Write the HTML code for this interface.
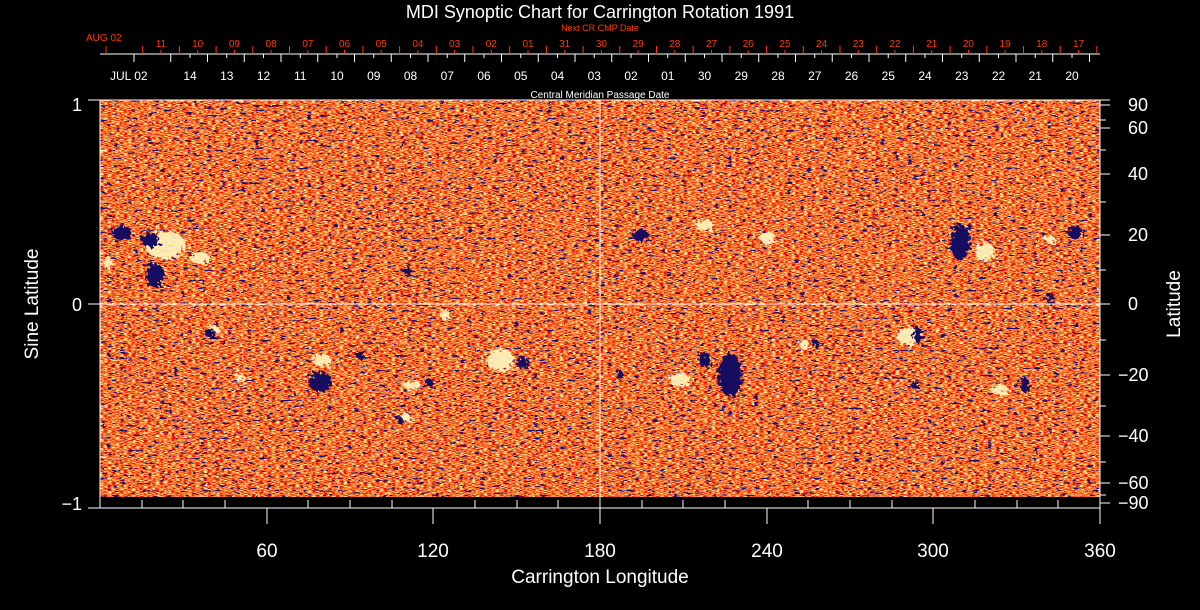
<!DOCTYPE html>
<html><head><meta charset="utf-8"><style>
html,body{margin:0;padding:0;background:#000;width:1200px;height:610px;overflow:hidden}
svg text{font-family:"Liberation Sans",sans-serif}
</style></head><body>
<svg width="1200" height="610" viewBox="0 0 1200 610" xmlns="http://www.w3.org/2000/svg">
<defs>
<filter id="n" x="0" y="0" width="100%" height="100%">
<feTurbulence type="fractalNoise" baseFrequency="0.25 1.0" numOctaves="2" seed="4" result="t"/>
<feColorMatrix in="t" type="matrix" values="3.4 0 0 0 -1.2  3.4 0 0 0 -1.2  3.4 0 0 0 -1.2  0 0 0 0 1" result="m"/>
<feComponentTransfer in="m" result="c">
<feFuncR type="table" tableValues="0.8 0.88 0.94 0.98 1 1"/>
<feFuncG type="table" tableValues="0 0.05 0.13 0.24 0.42 0.82"/>
<feFuncB type="table" tableValues="0 0 0.02 0.04 0.08 0.3"/>
<feFuncA type="table" tableValues="1 1"/>
</feComponentTransfer>
<feTurbulence type="fractalNoise" baseFrequency="0.15 0.4" numOctaves="2" seed="11" result="t2"/>
<feColorMatrix in="t2" type="matrix" values="0 0 0 0 0  0 0 0 0 0  0 0 0 0 0  -6 0 0 0 2.75" result="a2"/>
<feComponentTransfer in="a2" result="a3"><feFuncA type="discrete" tableValues="0 0 0 0 1"/></feComponentTransfer>
<feFlood flood-color="#1a0a70"/>
<feComposite in2="a3" operator="in" result="blue"/>
<feMerge><feMergeNode in="c"/><feMergeNode in="blue"/></feMerge>
</filter>
<filter id="b" x="-20%" y="-20%" width="140%" height="140%"><feTurbulence type="fractalNoise" baseFrequency="0.3" numOctaves="2" seed="7"/><feDisplacementMap in="SourceGraphic" scale="12"/></filter>
</defs>
<text x="600" y="18" fill="#fff" font-size="18" text-anchor="middle">MDI Synoptic Chart for Carrington Rotation 1991</text>
<text x="600" y="31" fill="#ff3a00" font-size="9" text-anchor="middle">Next CR CMP Date</text>
<text x="86" y="41" fill="#ff3a00" font-size="10">AUG 02</text>
<g fill="#ff3a00" font-size="10" text-anchor="middle">
<text x="161" y="47">11</text><text x="197.7" y="47">10</text><text x="234.4" y="47">09</text><text x="271.1" y="47">08</text><text x="307.8" y="47">07</text><text x="344.5" y="47">06</text><text x="381.2" y="47">05</text><text x="417.9" y="47">04</text><text x="454.6" y="47">03</text><text x="491.3" y="47">02</text><text x="528" y="47">01</text><text x="564.7" y="47">31</text><text x="601.4" y="47">30</text><text x="638.1" y="47">29</text><text x="674.8" y="47">28</text><text x="711.5" y="47">27</text><text x="748.2" y="47">26</text><text x="784.9" y="47">25</text><text x="821.6" y="47">24</text><text x="858.3" y="47">23</text><text x="895" y="47">22</text><text x="931.7" y="47">21</text><text x="968.4" y="47">20</text><text x="1005.1" y="47">19</text><text x="1041.8" y="47">18</text><text x="1078.5" y="47">17</text>
</g>
<line x1="100" y1="54" x2="1100" y2="54" stroke="#fff"/>
<path stroke="#ff3a00" d="M106 46v8M142.7 46v8M179.4 46v8M216.1 46v8M252.8 46v8M289.5 46v8M326.2 46v8M362.9 46v8M399.6 46v8M436.3 46v8M473 46v8M509.7 46v8M546.4 46v8M583.1 46v8M619.8 46v8M656.5 46v8M693.2 46v8M729.9 46v8M766.6 46v8M803.3 46v8M840 46v8M876.7 46v8M913.4 46v8M950.1 46v8M986.8 46v8M1023.5 46v8M1060.2 46v8M1096.9 46v8M161 50v4M197.7 50v4M234.4 50v4M271.1 50v4M307.8 50v4M344.5 50v4M381.2 50v4M417.9 50v4M454.6 50v4M491.3 50v4M528 50v4M564.7 50v4M601.4 50v4M638.1 50v4M674.8 50v4M711.5 50v4M748.2 50v4M784.9 50v4M821.6 50v4M858.3 50v4M895 50v4M931.7 50v4M968.4 50v4M1005.1 50v4M1041.8 50v4M1078.5 50v4"/>
<path stroke="#fff" d="M134 54v8M170.75 54v8M207.5 54v8M244.25 54v8M281 54v8M317.75 54v8M354.5 54v8M391.25 54v8M428 54v8M464.75 54v8M501.5 54v8M538.25 54v8M575 54v8M611.75 54v8M648.5 54v8M685.25 54v8M722 54v8M758.75 54v8M795.5 54v8M832.25 54v8M869 54v8M905.75 54v8M942.5 54v8M979.25 54v8M1016 54v8M1052.75 54v8M1089.5 54v8M190 54v4M226.75 54v4M263.5 54v4M300.25 54v4M337 54v4M373.75 54v4M410.5 54v4M447.25 54v4M484 54v4M520.75 54v4M557.5 54v4M594.25 54v4M631 54v4M667.75 54v4M704.5 54v4M741.25 54v4M778 54v4M814.75 54v4M851.5 54v4M888.25 54v4M925 54v4M961.75 54v4M998.5 54v4M1035.25 54v4M1072 54v4"/>
<text x="110" y="80" fill="#fff" font-size="12">JUL 02</text>
<g fill="#fff" font-size="12" text-anchor="middle">
<text x="190" y="80">14</text><text x="226.75" y="80">13</text><text x="263.5" y="80">12</text><text x="300.25" y="80">11</text><text x="337" y="80">10</text><text x="373.75" y="80">09</text><text x="410.5" y="80">08</text><text x="447.25" y="80">07</text><text x="484" y="80">06</text><text x="520.75" y="80">05</text><text x="557.5" y="80">04</text><text x="594.25" y="80">03</text><text x="631" y="80">02</text><text x="667.75" y="80">01</text><text x="704.5" y="80">30</text><text x="741.25" y="80">29</text><text x="778" y="80">28</text><text x="814.75" y="80">27</text><text x="851.5" y="80">26</text><text x="888.25" y="80">25</text><text x="925" y="80">24</text><text x="961.75" y="80">23</text><text x="998.5" y="80">22</text><text x="1035.25" y="80">21</text><text x="1072" y="80">20</text>
</g>
<text x="600" y="98" fill="#fff" font-size="10" text-anchor="middle">Central Meridian Passage Date</text>

<rect x="100" y="100" width="1000" height="397" filter="url(#n)"/>
<g filter="url(#b)">
<g fill="#fff8c0" opacity="0.9">
<ellipse cx="165" cy="245" rx="20" ry="14"/><ellipse cx="200" cy="258" rx="10" ry="6"/><ellipse cx="108" cy="262" rx="4" ry="6"/>
<ellipse cx="213" cy="330" rx="6" ry="5"/><ellipse cx="322" cy="360" rx="10" ry="6"/><ellipse cx="500" cy="360" rx="14" ry="11"/>
<ellipse cx="412" cy="385" rx="9" ry="4"/><ellipse cx="405" cy="418" rx="6" ry="4"/><ellipse cx="240" cy="378" rx="5" ry="4"/>
<ellipse cx="705" cy="225" rx="8" ry="6"/><ellipse cx="768" cy="238" rx="8" ry="6"/><ellipse cx="680" cy="380" rx="10" ry="7"/>
<ellipse cx="908" cy="336" rx="11" ry="9"/><ellipse cx="985" cy="252" rx="10" ry="9"/><ellipse cx="1050" cy="240" rx="6" ry="4"/>
<ellipse cx="805" cy="345" rx="5" ry="5"/><ellipse cx="1000" cy="390" rx="9" ry="5"/><ellipse cx="445" cy="315" rx="4" ry="6"/>
</g>
<g fill="#160a60">
<ellipse cx="122" cy="233" rx="10" ry="7"/><ellipse cx="150" cy="240" rx="9" ry="7"/><ellipse cx="155" cy="275" rx="9" ry="12"/>
<ellipse cx="210" cy="333" rx="5" ry="5"/><ellipse cx="320" cy="382" rx="12" ry="10"/><ellipse cx="360" cy="355" rx="4" ry="5"/>
<ellipse cx="522" cy="362" rx="6" ry="6"/><ellipse cx="430" cy="382" rx="5" ry="4"/><ellipse cx="408" cy="272" rx="4" ry="5"/>
<ellipse cx="640" cy="235" rx="8" ry="6"/><ellipse cx="730" cy="375" rx="12" ry="22"/><ellipse cx="705" cy="360" rx="6" ry="8"/>
<ellipse cx="918" cy="335" rx="5" ry="8"/><ellipse cx="960" cy="242" rx="10" ry="18"/><ellipse cx="1075" cy="232" rx="8" ry="6"/>
<ellipse cx="1050" cy="298" rx="4" ry="6"/><ellipse cx="915" cy="385" rx="4" ry="4"/><ellipse cx="1025" cy="385" rx="5" ry="7"/>
<ellipse cx="815" cy="343" rx="4" ry="4"/><ellipse cx="400" cy="420" rx="3" ry="3"/><ellipse cx="620" cy="375" rx="3" ry="5"/>
</g>
</g>
<line x1="100" y1="304" x2="1100" y2="304" stroke="#fff"/>
<line x1="600" y1="100" x2="600" y2="508" stroke="#fff"/>
<g stroke="#fff" fill="none">
<line x1="100" y1="100" x2="100" y2="508"/><line x1="1100" y1="100" x2="1100" y2="508"/>
<line x1="100" y1="508" x2="1100" y2="508"/><line x1="88" y1="100" x2="1110" y2="100"/>
<line x1="88" y1="304" x2="100" y2="304"/><line x1="88" y1="508" x2="100" y2="508"/>
<path d="M100 151h6M100 202h6M100 253h6M100 355h6M100 406h6M100 457h6"/>
<path d="M1100 105h10M1100 128h10M1100 174h10M1100 235h10M1100 304h10M1100 375h10M1100 436h10M1100 483h10M1100 503h10M1100 120h6M1100 150h6M1100 202h6M1100 270h6M1100 340h6M1100 406h6M1100 462h6M1100 495h6"/>
<path d="M267 508v16M433 508v16M600 508v16M767 508v16M933 508v16M1100 508v16M142 508v-8M183 508v-8M225 508v-8M308 508v-8M350 508v-8M392 508v-8M475 508v-8M517 508v-8M558 508v-8M642 508v-8M683 508v-8M725 508v-8M808 508v-8M850 508v-8M892 508v-8M975 508v-8M1017 508v-8M1058 508v-8"/>
</g>
<g fill="#fff" font-size="18" text-anchor="end">
<text x="82" y="111">1</text><text x="82" y="311">0</text><text x="82" y="510">−1</text>
</g>
<g fill="#fff" font-size="18">
<text x="1128" y="111">90</text><text x="1128" y="134">60</text><text x="1128" y="180">40</text><text x="1128" y="241">20</text><text x="1128" y="310">0</text>
<text x="1118" y="381">−20</text><text x="1118" y="442">−40</text><text x="1118" y="489">−60</text><text x="1118" y="509">−90</text>
</g>
<g fill="#fff" font-size="19" text-anchor="middle">
<text x="267" y="557">60</text><text x="433" y="557">120</text><text x="600" y="557">180</text><text x="767" y="557">240</text><text x="933" y="557">300</text><text x="1100" y="557">360</text>
<text x="600" y="583">Carrington Longitude</text>
</g>
<text transform="translate(38,304) rotate(-90)" fill="#fff" font-size="19" text-anchor="middle">Sine Latitude</text>
<text transform="translate(1180,304) rotate(-90)" fill="#fff" font-size="19" text-anchor="middle">Latitude</text>
</svg>
</body></html>
